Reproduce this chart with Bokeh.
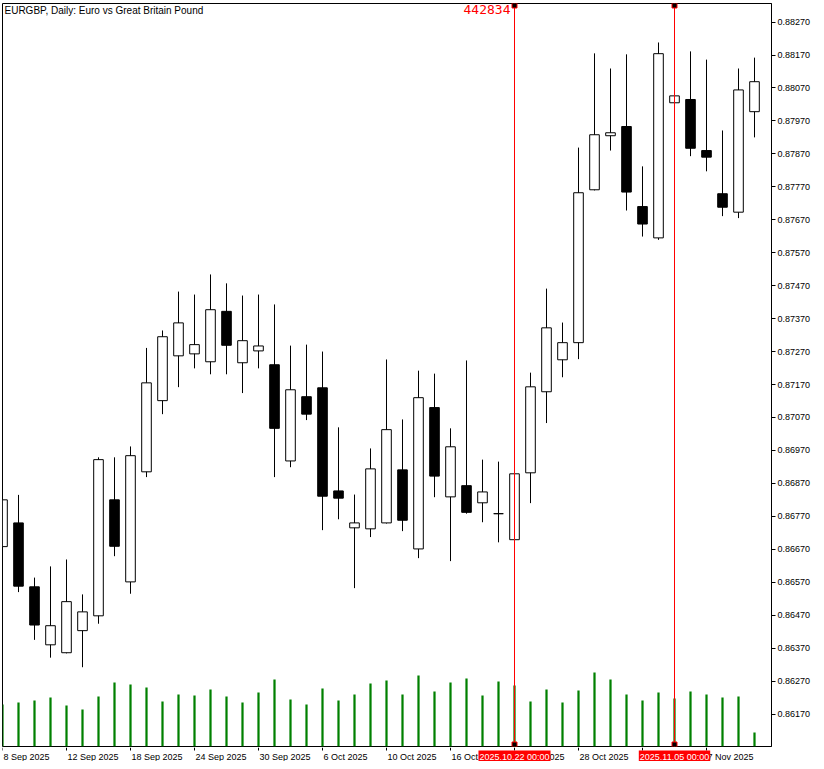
from bokeh.plotting import figure
from bokeh.layouts import column
from bokeh.models import Range1d, FixedTicker, PrintfTickFormatter, Label, ColumnDataSource
from bokeh.embed import file_html
from bokeh.resources import INLINE

title_text = "EURGBP, Daily:  Euro vs Great Britain Pound"

dates = [
    "2025-09-08", "2025-09-09", "2025-09-10", "2025-09-11", "2025-09-12",
    "2025-09-15", "2025-09-16", "2025-09-17", "2025-09-18", "2025-09-19",
    "2025-09-22", "2025-09-23", "2025-09-24", "2025-09-25", "2025-09-26",
    "2025-09-29", "2025-09-30", "2025-10-01", "2025-10-02", "2025-10-03",
    "2025-10-06", "2025-10-07", "2025-10-08", "2025-10-09", "2025-10-10",
    "2025-10-13", "2025-10-14", "2025-10-15", "2025-10-16", "2025-10-17",
    "2025-10-20", "2025-10-21", "2025-10-22", "2025-10-23", "2025-10-24",
    "2025-10-27", "2025-10-28", "2025-10-29", "2025-10-30", "2025-10-31",
    "2025-11-03", "2025-11-04", "2025-11-05", "2025-11-06", "2025-11-07",
    "2025-11-10", "2025-11-11", "2025-11-12",
]

opens = [0.86678, 0.86750, 0.86556, 0.86380, 0.86356, 0.86423, 0.86468, 0.86820,
         0.86571, 0.86905, 0.87121, 0.87257, 0.87263, 0.87239, 0.87392, 0.87236,
         0.87272, 0.87230, 0.86938, 0.87133, 0.87160, 0.86847, 0.86735, 0.86732,
         0.86750, 0.86911, 0.86671, 0.87100, 0.86829, 0.86863, 0.86811, 0.86778,
         0.86699, 0.86902, 0.87148, 0.87245, 0.87297, 0.87761, 0.87925, 0.87953,
         0.87710, 0.87615, 0.88025, 0.88035, 0.87880, 0.87749, 0.87693, 0.87998]
highs = [0.86827, 0.86835, 0.86584, 0.86618, 0.86639, 0.86533, 0.86949, 0.86949,
         0.86982, 0.87281, 0.87334, 0.87452, 0.87443, 0.87504, 0.87477, 0.87440,
         0.87443, 0.87413, 0.87288, 0.87291, 0.87270, 0.87040, 0.86836, 0.86976,
         0.87246, 0.87064, 0.87212, 0.87203, 0.87037, 0.87243, 0.86942, 0.86936,
         0.86903, 0.87206, 0.87461, 0.87358, 0.87889, 0.88175, 0.88129, 0.88172,
         0.87832, 0.88208, 0.88050, 0.88181, 0.88156, 0.87941, 0.88129, 0.88162]
lows = [0.86675, 0.86540, 0.86395, 0.86341, 0.86354, 0.86312, 0.86444, 0.86649,
        0.86535, 0.86889, 0.87080, 0.87162, 0.87219, 0.87201, 0.87201, 0.87144,
        0.87219, 0.86889, 0.86919, 0.87062, 0.86728, 0.86761, 0.86552, 0.86707,
        0.86748, 0.86725, 0.86643, 0.86828, 0.86634, 0.86778, 0.86752, 0.86691,
        0.86697, 0.86810, 0.87053, 0.87192, 0.87247, 0.87759, 0.87880, 0.87698,
        0.87619, 0.87609, 0.88023, 0.87863, 0.87817, 0.87681, 0.87675, 0.87920]
closes = [0.86820, 0.86558, 0.86440, 0.86438, 0.86511, 0.86480, 0.86942, 0.86679,
          0.86954, 0.87175, 0.87315, 0.87357, 0.87291, 0.87397, 0.87289, 0.87303,
          0.87287, 0.87037, 0.87154, 0.87080, 0.86831, 0.86825, 0.86750, 0.86914,
          0.87033, 0.86758, 0.87130, 0.86892, 0.86981, 0.86782, 0.86844, 0.86778,
          0.86899, 0.87163, 0.87342, 0.87297, 0.87752, 0.87928, 0.87934, 0.87754,
          0.87657, 0.88174, 0.88046, 0.87887, 0.87860, 0.87708, 0.88064, 0.88089]
volumes = [42, 44, 46, 49, 41, 37, 50, 64, 62, 59, 45, 52, 51, 57, 50, 44,
           54, 67, 47, 42, 58, 46, 52, 63, 66, 52, 71, 55, 64, 68, 51, 65,
           61, 45, 57, 44, 56, 74, 67, 52, 46, 54, 48, 55, 52, 49, 50, 14]

date_ticks = {0: "8 Sep 2025", 4: "12 Sep 2025", 8: "18 Sep 2025", 12: "24 Sep 2025",
              16: "30 Sep 2025", 20: "6 Oct 2025", 24: "10 Oct 2025", 28: "16 Oct 2025",
              32: "22 Oct 2025", 36: "28 Oct 2025", 40: "3 Nov 2025", 44: "7 Nov 2025"}
price_ticks = [0.86170, 0.86270, 0.86370, 0.86470, 0.86570, 0.86670, 0.86770, 0.86870,
               0.86970, 0.87070, 0.87170, 0.87270, 0.87370, 0.87470, 0.87570, 0.87670,
               0.87770, 0.87870, 0.87970, 0.88070, 0.88170, 0.88270]

marker_idx = [32, 42]
marker_labels = ["2025.10.22 00:00", "2025.11.05 00:00"]
marker_value = "442834"

Y0, Y1 = 0.860714, 0.883263
X0, X1 = 0.0, 48.0625
FRAME_H = 743
PX = (Y1 - Y0) / FRAME_H
STRIP_H = 14

xs = list(range(len(opens)))
src = ColumnDataSource(dict(
    x=xs, open=opens, high=highs, low=lows, close=closes,
    bt=[max(o, c) for o, c in zip(opens, closes)],
    bb=[min(o, c) for o, c in zip(opens, closes)],
    color=["white" if c >= o else "black" for o, c in zip(opens, closes)],
))

xr = Range1d(X0, X1)

p = figure(width=816, height=747, x_range=xr, y_range=Range1d(Y0, Y1),
           x_axis_location=None, y_axis_location="right", output_backend="svg",
           toolbar_location=None, min_border_left=2, min_border_top=3,
           min_border_right=45, min_border_bottom=1)
p.grid.visible = False
p.outline_line_color = "black"
p.outline_line_width = 1
p.background_fill_color = "white"
p.border_fill_color = "white"

p.extra_y_ranges = {"vol": Range1d(0, FRAME_H)}
p.vbar(x=xs, top=volumes, bottom=0, width=0.14, y_range_name="vol",
       fill_color="#008000", line_color=None)

p.segment(x0="x", y0="low", x1="x", y1="high", line_color="black", line_width=1, source=src)
p.vbar(x="x", width=0.6, top="bt", bottom="bb", fill_color="color", line_color="black",
       line_width=1, source=src)

p.segment(x0=marker_idx, y0=[Y0] * 2, x1=marker_idx, y1=[Y1] * 2,
          line_color="#FF0000", line_width=1)
p.scatter(x=marker_idx * 2, y=[Y1 - 2 * PX] * 2 + [Y0 + 2 * PX] * 2, marker="square",
          size=5, fill_color="black", line_color="#FF0000", line_width=1)

ya = p.yaxis[0]
ya.ticker = FixedTicker(ticks=price_ticks)
ya.formatter = PrintfTickFormatter(format="%.5f")
ya.major_label_text_font = "Liberation Sans"
ya.major_label_text_font_size = "9px"
ya.major_label_text_color = "black"
ya.major_tick_in = 0
ya.major_tick_out = 4
ya.minor_tick_in = 0
ya.minor_tick_out = 0
ya.major_label_standoff = 2
ya.axis_line_color = "black"
ya.major_tick_line_color = "black"

p.add_layout(Label(x=X0, y=Y1, x_offset=2, y_offset=-1, text=title_text,
                   text_baseline="top", text_align="left", text_font="Liberation Sans",
                   text_font_size="10px", text_color="black"))
p.add_layout(Label(x=marker_idx[0], y=Y1, x_offset=-4, y_offset=-1, text=marker_value,
                   text_baseline="top", text_align="right", text_font="DejaVu Sans Mono",
                   text_font_size="13px", text_color="#FF0000"))

# bottom strip holding the time axis labels
s = figure(width=816, height=STRIP_H, x_range=xr, y_range=Range1d(0, STRIP_H),
           x_axis_location=None, y_axis_location=None, output_backend="svg",
           toolbar_location=None, min_border_left=2, min_border_top=0,
           min_border_right=45, min_border_bottom=0)
s.grid.visible = False
s.outline_line_color = None
s.background_fill_color = "white"
s.border_fill_color = "white"

tick_x = list(date_ticks.keys())
s.segment(x0=tick_x, y0=[STRIP_H] * len(tick_x), x1=tick_x, y1=[STRIP_H - 3] * len(tick_x),
          line_color="black", line_width=1)
for tx, tl in date_ticks.items():
    s.add_layout(Label(x=tx, y=STRIP_H, x_offset=1, y_offset=-4, text=tl, text_align="left",
                       text_baseline="top", text_font="Liberation Sans",
                       text_font_size="9px", text_color="black"))
for mx, ml in zip(marker_idx, marker_labels):
    s.add_layout(Label(x=mx, y=STRIP_H, y_offset=-3, text=ml, text_align="center",
                       text_baseline="top", text_font="Liberation Sans", text_font_size="9px",
                       text_color="white", background_fill_color="#FF0000",
                       padding=1, level="overlay"))

layout = column(p, s, spacing=0)
open("out.html", "w").write(file_html(layout, INLINE))
